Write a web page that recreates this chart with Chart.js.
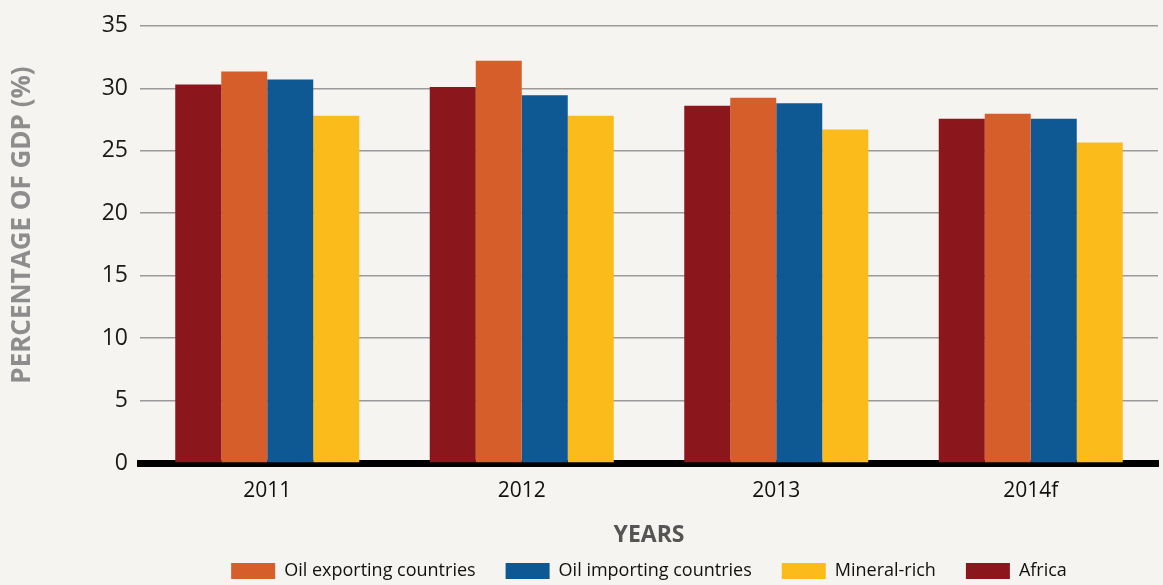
<!DOCTYPE html>
<html>
<head>
<meta charset="utf-8">
<script src="https://cdn.jsdelivr.net/npm/chart.js@4/dist/chart.umd.min.js"></script>
<style>
  html, body { margin: 0; padding: 0; background: #f5f4f0; }
  #wrap { width: 1163px; height: 585px; position: relative; }
</style>
</head>
<body>
<div id="wrap"><canvas id="c" width="1163" height="585"></canvas></div>
<script>
const categories = ['2011', '2012', '2013', '2014f'];
const africa = [30.3, 30.1, 28.6, 27.55];
const oilExporting = [31.35, 32.2, 29.25, 27.95];
const oilImporting = [30.7, 29.45, 28.8, 27.55];
const mineralRich = [27.8, 27.8, 26.7, 25.65];
const yTicks = [0, 5, 10, 15, 20, 25, 30, 35];
const legendOrder = ['Oil exporting countries', 'Oil importing countries', 'Mineral-rich', 'Africa'];

const FONT = "'Open Sans', sans-serif";

const yTitlePlugin = {
  id: 'yTitle',
  afterDraw(chart) {
    const ctx = chart.ctx;
    ctx.save();
    ctx.translate(23, 225);
    ctx.rotate(-Math.PI / 2);
    ctx.font = "bold 26px " + FONT;
    ctx.fillStyle = '#8d8d8d';
    ctx.textAlign = 'center';
    ctx.textBaseline = 'middle';
    ctx.fillText('PERCENTAGE OF GDP (%)', 0, 0);
    ctx.restore();
  }
};

const legendShiftPlugin = {
  id: 'legendShift',
  afterUpdate(chart) {
    const lg = chart.legend;
    if (lg) {
      lg.left += 70;
      lg.right += 70;
      if (lg.adjustHitBoxes) lg.adjustHitBoxes();
    }
  }
};

new Chart(document.getElementById('c'), {
  type: 'bar',
  data: {
    labels: categories,
    datasets: [
      { label: 'Africa', data: africa, backgroundColor: '#8b171c' },
      { label: 'Oil exporting countries', data: oilExporting, backgroundColor: '#d65e2b' },
      { label: 'Oil importing countries', data: oilImporting, backgroundColor: '#0e5894' },
      { label: 'Mineral-rich', data: mineralRich, backgroundColor: '#fbbc1b' }
    ]
  },
  options: {
    responsive: false,
    animation: false,
    layout: { padding: { top: 6, right: 5, left: 0, bottom: -5 } },
    datasets: { bar: { categoryPercentage: 0.723, barPercentage: 1.0, borderWidth: 0 } },
    plugins: {
      legend: {
        position: 'bottom',
        labels: {
          boxWidth: 44, boxHeight: 16, padding: 30,
          color: '#111',
          font: { family: FONT, size: 18 },
          sort: (a, b) => legendOrder.indexOf(a.text) - legendOrder.indexOf(b.text)
        }
      },
      tooltip: { enabled: false }
    },
    scales: {
      x: {
        afterFit: (s) => { s.height = 69; },
        grid: { display: false },
        border: { display: true, color: '#000', width: 7 },
        ticks: { color: '#111', font: { family: FONT, size: 21 }, padding: 7 },
        title: { display: true, text: 'YEARS', color: '#555', font: { family: FONT, size: 23, weight: 'bold' }, padding: { top: 0, bottom: -17 } }
      },
      y: {
        min: 0, max: 35,
        afterBuildTicks: (s) => { s.ticks = yTicks.map(v => ({ value: v })); },
        afterFit: (s) => { s.width = 140; },
        grid: { color: '#9a9a9a', lineWidth: 1.5, drawTicks: false },
        border: { display: false },
        ticks: { color: '#1a1a1a', font: { family: FONT, size: 23 }, padding: 12 }
      }
    }
  },
  plugins: [yTitlePlugin, legendShiftPlugin]
});
</script>
</body>
</html>
